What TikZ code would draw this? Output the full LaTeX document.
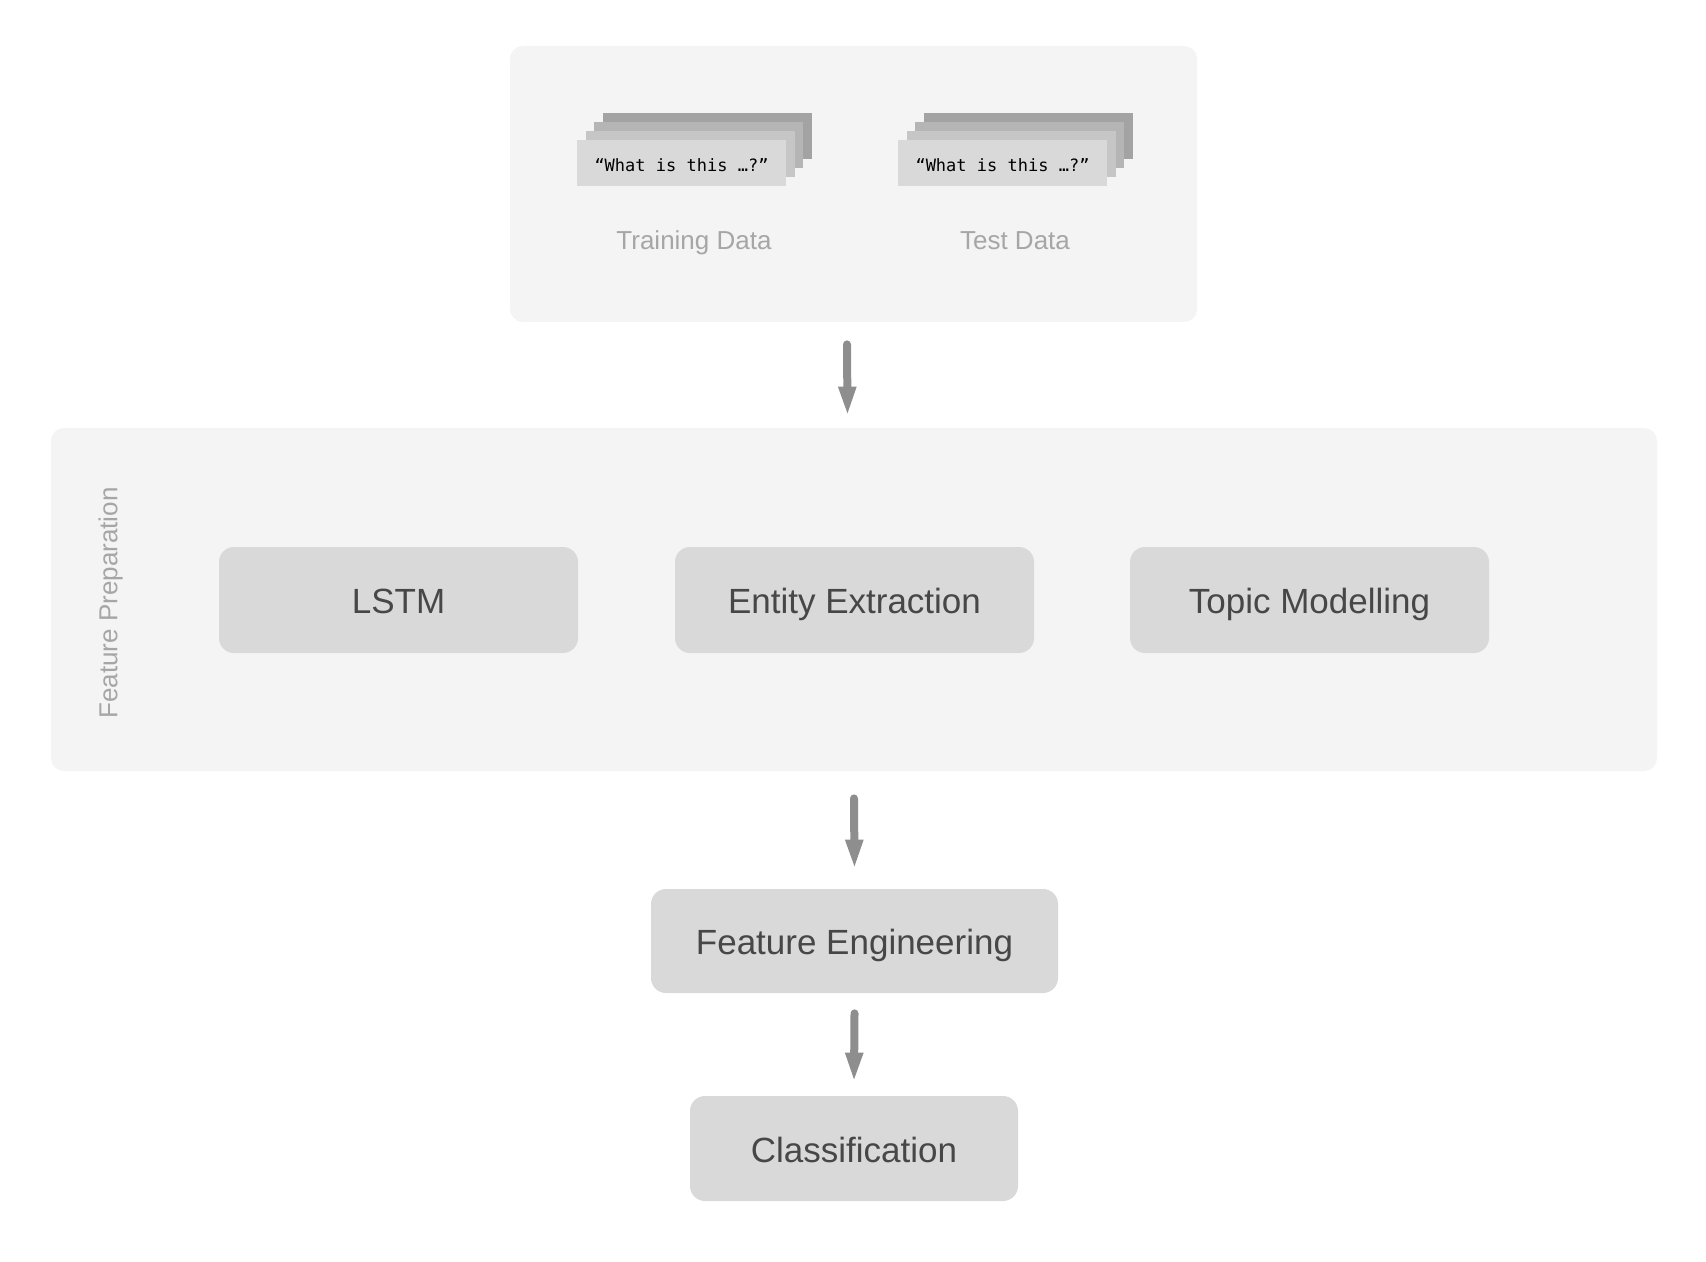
\documentclass[tikz,border=0pt]{standalone}
\usepackage{fontspec}
\setmainfont{Liberation Sans}
\newfontfamily\fpmono{DejaVu Sans Mono}
\usetikzlibrary{shapes,arrows.meta}
\definecolor{panelgray}{HTML}{F4F4F4}
\definecolor{boxgray}{HTML}{D9D9D9}
\definecolor{textgray}{HTML}{474747}
\definecolor{labelgray}{HTML}{A6A6A6}
\definecolor{arrowgray}{HTML}{8E8E8E}
\definecolor{doclayera}{HTML}{C6C6C6}
\definecolor{doclayerb}{HTML}{B5B5B5}
\definecolor{doclayerc}{HTML}{A3A3A3}
\tikzset{
  panel/.style={fill=panelgray, rounded corners=6.5pt, inner sep=0pt},
  stepbox/.style={fill=boxgray, rounded corners=7.5pt, inner sep=0pt, text=textgray, text height=13.8pt, text depth=0pt, font=\fontsize{17.5}{21}\selectfont},
  docsheet/.style={inner sep=0pt, minimum width=104.5pt, minimum height=23pt},
  datalabel/.style={text=labelgray, inner sep=0pt, text height=9.4pt, text depth=0pt, font=\fontsize{13}{16}\selectfont},
  flow/.style={draw=arrowgray, line width=4pt, line cap=round, -{Triangle[width=8pt,length=15pt]}}
}
\newcommand{\fpstepnode}[5] {\node at (#1) (#2) [stepbox, minimum width=#3, minimum height=#4] {#5};}
\newcommand{\fpdocstack}[3] {
  \node at (#1) (#23) [docsheet, fill=doclayerc, xshift=12.75pt, yshift=13.5pt] {};
  \node at (#1) (#22) [docsheet, fill=doclayerb, xshift=8.5pt, yshift=9pt] {};
  \node at (#1) (#21) [docsheet, fill=doclayera, xshift=4.25pt, yshift=4.5pt] {};
  \node at (#1) (#20) [docsheet, fill=boxgray, text height=8.2pt, text depth=0pt, font=\fpmono\fontsize{8.5}{10}\selectfont] {“What is this …?”};
  \node at (#1) (#2label) [datalabel, xshift=6.25pt, yshift=-38.5pt] {#3};
}
\newcommand{\fpflowarrow}[5] {\draw [flow] ([xshift=#3, yshift=-#4]#1.south) -- ([xshift=#3, yshift=#5]#2.north);}

\begin{document}
\begin{tikzpicture}[x=0.5pt, y=-0.5pt]
\useasboundingbox [fill=white] (0,0) rectangle (1706,1262);

% input data
\node at (853.5,184) (source) [panel, minimum width=343.5pt, minimum height=138pt] {};
\fpdocstack {681.5,163} {train} {Training Data};
\fpdocstack {1002.5,163} {test} {Test Data};

% feature preparation
\node at (854,599.5) (prep) [panel, minimum width=803pt, minimum height=171.5pt] {};
\node at (108,603) (preplabel) [datalabel, rotate=90] {Feature Preparation};
\fpstepnode {398.5,600} {lstm} {179.5pt} {53pt} {LSTM};
\fpstepnode {854.5,600} {entity} {179.5pt} {53pt} {Entity Extraction};
\fpstepnode {1309.5,600} {topic} {179.5pt} {53pt} {Topic Modelling};

\fpstepnode {854.5,941} {engineering} {203.5pt} {52pt} {Feature Engineering};
\fpstepnode {854,1148.5} {classification} {164pt} {52.5pt} {Classification};

\fpflowarrow {source}{prep}{-3.25pt}{11pt}{5.5pt};
\fpflowarrow {prep}{engineering}{0pt}{13.5pt}{9.5pt};
\fpflowarrow {engineering}{classification}{0pt}{10pt}{6.5pt};

%\node at (854,1230) {};
\end{tikzpicture}
\end{document}
